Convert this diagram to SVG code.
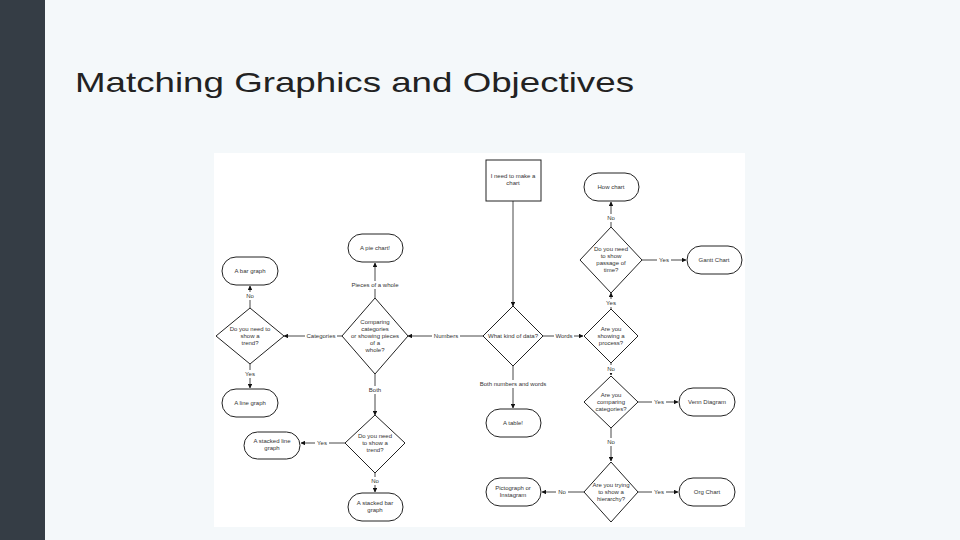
<svg xmlns="http://www.w3.org/2000/svg" width="960" height="540" viewBox="0 0 960 540">
<defs>
<marker id="ah" viewBox="0 0 10 10" refX="9" refY="5" markerWidth="5" markerHeight="5" orient="auto"><path d="M0,0L10,5L0,10z" fill="#111"/></marker>
<style>
.n{fill:#fff;stroke:#222;stroke-width:1}
.t{font-family:"Liberation Sans",Arial,sans-serif;font-size:6px;fill:#333;text-anchor:middle}
.l{font-family:"Liberation Sans",Arial,sans-serif;font-size:6px;fill:#333;text-anchor:middle}
.c{fill:none;stroke:#333;stroke-width:0.9}
.a{marker-end:url(#ah)}
</style>
</defs>
<rect width="960" height="540" fill="#f4f8fa"/>
<rect width="45" height="540" fill="#353d45"/>
<text x="75" y="92" font-family="Liberation Sans,Arial,sans-serif" font-size="28" fill="#222" textLength="559" lengthAdjust="spacingAndGlyphs">Matching Graphics and Objectives</text>
<rect x="214" y="153" width="531" height="374" fill="#fff"/>
<g id="connectors">
<path class="c a" d="M513,201V306"/>
<path class="c a" d="M483,336H408"/>
<path class="c a" d="M342,336H284"/>
<path class="c a" d="M250,308V286"/>
<path class="c a" d="M250,364V388"/>
<path class="c a" d="M375,298V263"/>
<path class="c a" d="M375,374V415"/>
<path class="c a" d="M345,443H301"/>
<path class="c a" d="M375,473V492"/>
<path class="c a" d="M513,366V408"/>
<path class="c a" d="M543,336H583"/>
<path class="c a" d="M611,309V293"/>
<path class="c a" d="M611,227V202"/>
<path class="c a" d="M642,260H686"/>
<path class="c a" d="M611,363V375"/>
<path class="c a" d="M638,402H678"/>
<path class="c a" d="M611,428V461"/>
<path class="c a" d="M638,492H678"/>
<path class="c a" d="M584,492H542"/>
</g>
<g id="labels">
<rect x="244" y="292" width="12" height="8" fill="#fff"/><text class="l" x="250" y="298">No</text>
<rect x="243" y="370" width="14" height="8" fill="#fff"/><text class="l" x="250" y="376">Yes</text>
<rect x="305" y="332" width="32" height="8" fill="#fff"/><text class="l" x="321" y="338">Categories</text>
<rect x="432" y="332" width="28" height="8" fill="#fff"/><text class="l" x="446" y="338">Numbers</text>
<rect x="350" y="281" width="50" height="8" fill="#fff"/><text class="l" x="375" y="287">Pieces of a whole</text>
<rect x="367" y="386" width="16" height="8" fill="#fff"/><text class="l" x="375" y="392">Both</text>
<rect x="315" y="439" width="14" height="8" fill="#fff"/><text class="l" x="322" y="445">Yes</text>
<rect x="369" y="477" width="12" height="8" fill="#fff"/><text class="l" x="375" y="483">No</text>
<rect x="478" y="380" width="70" height="8" fill="#fff"/><text class="l" x="513" y="386">Both numbers and words</text>
<rect x="554" y="332" width="20" height="8" fill="#fff"/><text class="l" x="564" y="338">Words</text>
<rect x="605" y="214" width="12" height="8" fill="#fff"/><text class="l" x="611" y="220">No</text>
<rect x="604" y="299" width="14" height="8" fill="#fff"/><text class="l" x="611" y="305">Yes</text>
<rect x="657" y="256" width="14" height="8" fill="#fff"/><text class="l" x="664" y="262">Yes</text>
<rect x="605" y="365" width="12" height="8" fill="#fff"/><text class="l" x="611" y="371">No</text>
<rect x="652" y="398" width="14" height="8" fill="#fff"/><text class="l" x="659" y="404">Yes</text>
<rect x="605" y="438" width="12" height="8" fill="#fff"/><text class="l" x="611" y="444">No</text>
<rect x="556" y="488" width="12" height="8" fill="#fff"/><text class="l" x="562" y="494">No</text>
<rect x="652" y="488" width="14" height="8" fill="#fff"/><text class="l" x="659" y="494">Yes</text>
</g>
<g id="start"><rect class="n" x="486" y="160" width="55" height="41"/><text class="t" x="513" y="178">I need to make a</text><text class="t" x="513" y="185">chart</text></g>
<g id="howchart"><rect class="n" x="584" y="173" width="55" height="28" rx="14"/><text class="t" x="611" y="189">How chart</text></g>
<g id="passage"><path class="n" d="M611,227L642,260L611,293L580,260Z"/><text class="t" x="611" y="251">Do you need</text><text class="t" x="611" y="258">to show</text><text class="t" x="611" y="265">passage of</text><text class="t" x="611" y="272">time?</text></g>
<g id="gantt"><rect class="n" x="687" y="246" width="55" height="28" rx="14"/><text class="t" x="714" y="262">Gantt Chart</text></g>
<g id="process"><path class="n" d="M611,309L638,336L611,363L584,336Z"/><text class="t" x="611" y="331">Are you</text><text class="t" x="611" y="338">showing a</text><text class="t" x="611" y="345">process?</text></g>
<g id="datakind"><path class="n" d="M513,306L543,336L513,366L483,336Z"/><text class="t" x="513" y="338">What kind of data?</text></g>
<g id="comparecat"><path class="n" d="M611,376L638,402L611,428L584,402Z"/><text class="t" x="611" y="397">Are you</text><text class="t" x="611" y="404">comparing</text><text class="t" x="611" y="411">categories?</text></g>
<g id="venn"><rect class="n" x="679" y="388" width="56" height="28" rx="14"/><text class="t" x="707" y="404">Venn Diagram</text></g>
<g id="hierarchy"><path class="n" d="M611,462L638,492L611,522L584,492Z"/><text class="t" x="611" y="487">Are you trying</text><text class="t" x="611" y="494">to show a</text><text class="t" x="611" y="501">hierarchy?</text></g>
<g id="org"><rect class="n" x="679" y="478" width="56" height="28" rx="14"/><text class="t" x="707" y="494">Org Chart</text></g>
<g id="picto"><rect class="n" x="486" y="478" width="55" height="28" rx="14"/><text class="t" x="513" y="490">Pictograph or</text><text class="t" x="513" y="497">Instagram</text></g>
<g id="table"><rect class="n" x="486" y="409" width="55" height="28" rx="14"/><text class="t" x="513" y="425">A table!</text></g>
<g id="pie"><rect class="n" x="348" y="234" width="55" height="28" rx="14"/><text class="t" x="375" y="250">A pie chart!</text></g>
<g id="pieces"><path class="n" d="M375,298L408,336L375,374L342,336Z"/><text class="t" x="375" y="324">Comparing</text><text class="t" x="375" y="331">categories</text><text class="t" x="375" y="338">or showing pieces</text><text class="t" x="375" y="345">of a</text><text class="t" x="375" y="352">whole?</text></g>
<g id="bar"><rect class="n" x="222" y="257" width="56" height="28" rx="14"/><text class="t" x="250" y="273">A bar graph</text></g>
<g id="trend1"><path class="n" d="M250,308L284,336L250,364L216,336Z"/><text class="t" x="250" y="331">Do you need to</text><text class="t" x="250" y="338">show a</text><text class="t" x="250" y="345">trend?</text></g>
<g id="line"><rect class="n" x="222" y="389" width="56" height="28" rx="14"/><text class="t" x="250" y="405">A line graph</text></g>
<g id="trend2"><path class="n" d="M375,415L405,443L375,473L345,443Z"/><text class="t" x="375" y="438">Do you need</text><text class="t" x="375" y="445">to show a</text><text class="t" x="375" y="452">trend?</text></g>
<g id="stackline"><rect class="n" x="244" y="432" width="56" height="27" rx="13.5"/><text class="t" x="272" y="443">A stacked line</text><text class="t" x="272" y="450">graph</text></g>
<g id="stackbar"><rect class="n" x="348" y="493" width="55" height="28" rx="14"/><text class="t" x="375" y="505">A stacked bar</text><text class="t" x="375" y="512">graph</text></g>
</svg>
